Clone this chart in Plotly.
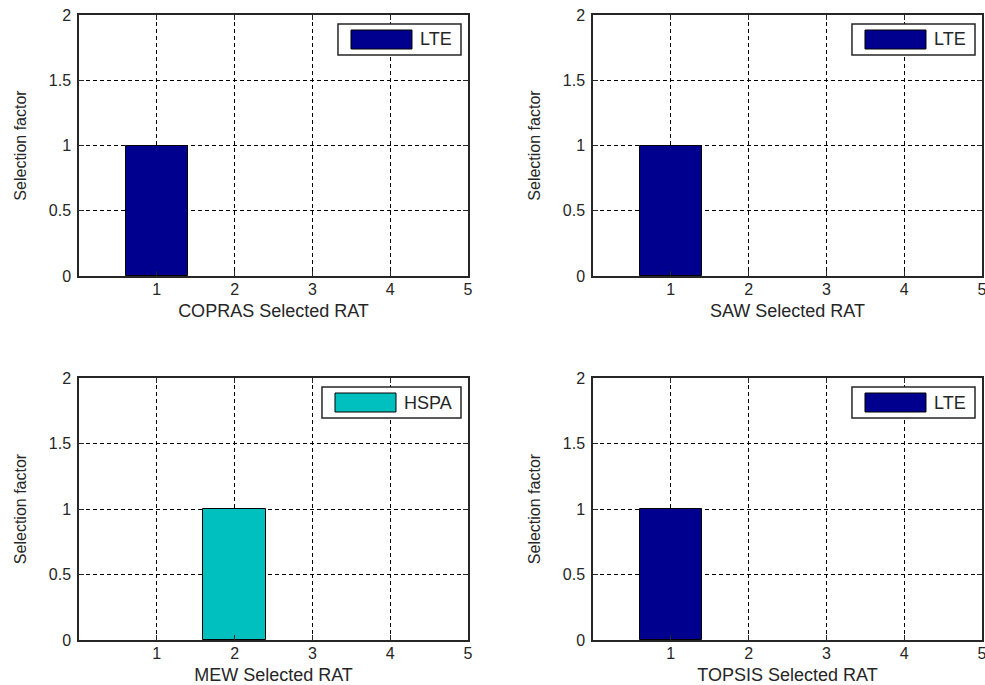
import plotly.graph_objects as go

# Selected radio access technology per decision method
methods = ["COPRAS", "SAW", "MEW", "TOPSIS"]
selected_rat = [1, 1, 2, 1]
selection_factor = [1, 1, 1, 1]
rat_names = ["LTE", "LTE", "HSPA", "LTE"]
rat_colors = {"LTE": "#00008F", "HSPA": "#00BFBF"}

x_ticks = [1, 2, 3, 4, 5]
y_ticks = [0, 0.5, 1, 1.5, 2]
y_tick_text = ["0", "0.5", "1", "1.5", "2"]

FIG_W, FIG_H = 985, 685
FONT = "Liberation Sans"
INK = "#262626"

# panel pixel boxes: (left, right, top, bottom)
panels = [(79, 468, 15, 276), (593, 982, 15, 276),
          (79, 468, 378, 640), (593, 982, 378, 640)]

# approximate glyph widths (em) for legend text sizing
glyph_w = {"L": 0.556, "T": 0.611, "E": 0.667, "H": 0.722, "S": 0.667,
           "P": 0.667, "A": 0.667}
LEG_FONT = 18

fig = go.Figure()
shapes, annotations = [], []

for k, (method, rat, val, name) in enumerate(
        zip(methods, selected_rat, selection_factor, rat_names), start=1):
    left, right, top, bottom = panels[k - 1]
    W, H = right - left, bottom - top
    xs = "" if k == 1 else str(k)
    fig.add_trace(go.Bar(
        x=[rat], y=[val], width=0.8, name=name,
        marker=dict(color=rat_colors[name], line=dict(color="black", width=1)),
        xaxis="x" + xs, yaxis="y" + xs, showlegend=False,
    ))

    common = dict(
        showgrid=True, gridcolor="black", griddash="4px,3px", gridwidth=1.3,
        showline=True, linecolor=INK, linewidth=1.5, mirror="ticks",
        ticks="inside", ticklen=5, tickcolor=INK, zeroline=False,
        tickfont=dict(family=FONT, size=16, color=INK), automargin=False,
        fixedrange=True, ticklabeloverflow="allow",
    )
    fig.layout["xaxis" + xs] = dict(
        common, domain=[left / FIG_W, right / FIG_W], range=[0, 5],
        tickvals=x_ticks, ticktext=[str(t) for t in x_ticks],
        anchor="y" + xs, ticklabelstandoff=-2,
        title=dict(text=f"{method} Selected RAT",
                   font=dict(family=FONT, size=18, color=INK), standoff=7),
    )
    fig.layout["yaxis" + xs] = dict(
        common, domain=[1 - bottom / FIG_H, 1 - top / FIG_H], range=[0, 2],
        tickvals=y_ticks, ticktext=y_tick_text, anchor="x" + xs,
        ticklabelstandoff=3,
        title=dict(text="Selection factor",
                   font=dict(family=FONT, size=16, color=INK), standoff=18),
    )

    # legend box in the upper-right corner of each panel
    xr, yr = "x" + xs + " domain", "y" + xs + " domain"
    text_w = sum(glyph_w.get(c, 0.6) for c in name) * LEG_FONT
    box_r = 382
    text_l = box_r - 10 - text_w
    sw_r = text_l - 6
    sw_l = sw_r - 61
    box_l = sw_l - 13
    fx = lambda px: px / W
    fy = lambda py: 1 - py / H
    shapes.append(dict(type="rect", xref=xr, yref=yr,
                       x0=fx(box_l), x1=fx(box_r), y0=fy(40), y1=fy(9),
                       fillcolor="white", line=dict(color=INK, width=1.5),
                       layer="above"))
    shapes.append(dict(type="rect", xref=xr, yref=yr,
                       x0=fx(sw_l), x1=fx(sw_r), y0=fy(34), y1=fy(15),
                       fillcolor=rat_colors[name],
                       line=dict(color="black", width=1), layer="above"))
    annotations.append(dict(xref=xr, yref=yr, x=fx(text_l), y=fy(24.5),
                            text=name, showarrow=False, xanchor="left",
                            yanchor="middle",
                            font=dict(family=FONT, size=LEG_FONT, color=INK)))

fig.update_layout(
    width=FIG_W, height=FIG_H, template="none",
    margin=dict(l=0, r=0, t=0, b=0, pad=0),
    paper_bgcolor="white", plot_bgcolor="white",
    shapes=shapes, annotations=annotations, showlegend=False,
    bargap=0,
)

fig.write_html("out.html")
